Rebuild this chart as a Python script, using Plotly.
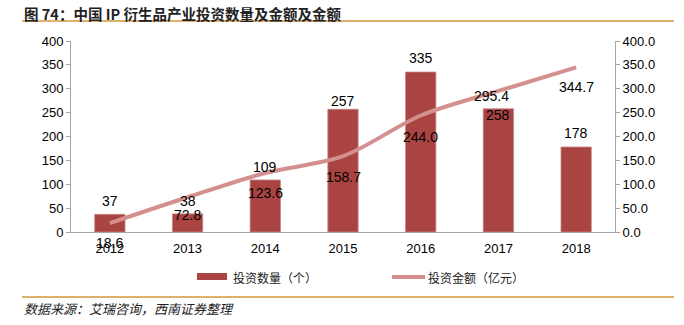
import plotly.graph_objects as go

years = ["2012", "2013", "2014", "2015", "2016", "2017", "2018"]
counts = [37, 38, 109, 257, 335, 258, 178]
amounts = [18.6, 72.8, 123.6, 158.7, 244.0, 295.4, 344.7]
left_ticks = [0, 50, 100, 150, 200, 250, 300, 350, 400]
right_ticks = [0, 50, 100, 150, 200, 250, 300, 350, 400]

bar_label_shift = [13, 13, 13, 8, 14, -6, 14]
line_label_shift = [-20, -18, -20, -21, -22, -5, -20]
line_label_xshift = [0, 0, 0, 0, 0, -7, 0]

BAR = "#A94442"
LINE = "#D4908E"
NUM_FONT = dict(family="Liberation Sans, Arial", size=14, color="#000")
CJK = "Noto Sans CJK SC"

# plot area in pixels
L, R, T, B = 71, 615, 41, 232
PW, PH = R - L, B - T


def px(x):
    return (x - L) / PW


def py(y):
    return (B - y) / PH


fig = go.Figure()
fig.add_trace(go.Bar(
    x=years, y=counts, name="投资数量（个）", width=0.39,
    marker=dict(color=BAR, line=dict(color="#C98584", width=0.8)),
    yaxis="y", showlegend=False))
fig.add_trace(go.Scatter(
    x=years, y=amounts, name="投资金额（亿元）", mode="lines",
    line=dict(color=LINE, width=4, shape="spline", smoothing=0.9),
    yaxis="y2", showlegend=False))

ann = []
for i, c in enumerate(counts):
    ann.append(dict(x=i, y=c, xref="x", yref="y", text=str(c), showarrow=False,
                    yanchor="middle", yshift=bar_label_shift[i], font=NUM_FONT))
for i, a in enumerate(amounts):
    ann.append(dict(x=i, y=a, xref="x", yref="y2", text=f"{a:.1f}", showarrow=False,
                    yanchor="middle", yshift=line_label_shift[i],
                    xshift=line_label_xshift[i], font=NUM_FONT))

ann.append(dict(x=px(22), y=py(1), xref="paper", yref="paper", xanchor="left", yanchor="top",
                showarrow=False,
                text="<b>图 74：中国 IP 衍生品产业投资数量及金额及金额</b>",
                font=dict(family=CJK, size=14.5, color="#222")))
ann.append(dict(x=px(22), y=py(320), xref="paper", yref="paper", xanchor="left",
                yanchor="bottom", showarrow=False,
                text="<i>数据来源：艾瑞咨询，西南证券整理</i>",
                font=dict(family=CJK, size=13, color="#222")))
# custom legend
ann.append(dict(x=px(231), y=py(277), xref="paper", yref="paper", xanchor="left",
                yanchor="middle", showarrow=False, text="投资数量（个）",
                font=dict(family=CJK, size=12, color="#222")))
ann.append(dict(x=px(426), y=py(277), xref="paper", yref="paper", xanchor="left",
                yanchor="middle", showarrow=False, text="投资金额（亿元）",
                font=dict(family=CJK, size=12, color="#222")))

shapes = [
    dict(type="line", xref="paper", yref="paper", x0=px(22), x1=px(674),
         y0=py(21), y1=py(21), line=dict(color="#D4943C", width=1.5)),
    dict(type="line", xref="paper", yref="paper", x0=px(22), x1=px(674),
         y0=py(297), y1=py(297), line=dict(color="#D4943C", width=1.5)),
    dict(type="rect", xref="paper", yref="paper", x0=px(197), x1=px(227),
         y0=py(280), y1=py(273), fillcolor=BAR, line=dict(width=0)),
    dict(type="line", xref="paper", yref="paper", x0=px(392), x1=px(425),
         y0=py(277), y1=py(277), line=dict(color=LINE, width=4)),
]

fig.update_layout(
    width=684, height=325,
    margin=dict(l=L, r=684 - R, t=T, b=325 - B, autoexpand=False),
    paper_bgcolor="white", plot_bgcolor="white",
    showlegend=False,
    xaxis=dict(type="category", range=[-0.5, 6.5], showline=True, linecolor="#A6A6A6",
               linewidth=1, ticks="", showgrid=False, ticklabelstandoff=4,
               tickfont=dict(family="Liberation Sans, Arial", size=13, color="#000")),
    yaxis=dict(range=[0, 400], tickvals=left_ticks, showline=True, linecolor="#A6A6A6",
               ticks="outside", tickcolor="#A6A6A6", ticklen=4, showgrid=False,
               zeroline=False,
               tickfont=dict(family="Liberation Sans, Arial", size=13, color="#000")),
    yaxis2=dict(range=[0, 400], tickvals=right_ticks, tickformat=".1f", overlaying="y",
                side="right", showline=True, linecolor="#A6A6A6", ticks="outside",
                tickcolor="#A6A6A6", ticklen=4, showgrid=False, zeroline=False,
                tickfont=dict(family="Liberation Sans, Arial", size=13, color="#000")),
    annotations=ann,
    shapes=shapes,
)

fig.write_html("out.html")
